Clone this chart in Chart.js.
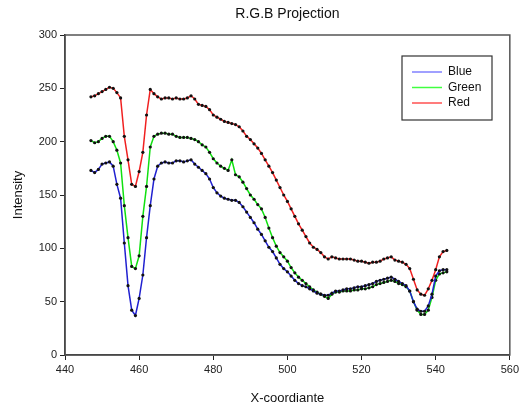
<!DOCTYPE html>
<html>
<head>
<meta charset="utf-8">
<script src="https://cdn.jsdelivr.net/npm/chart.js@4.4.1/dist/chart.umd.min.js"></script>
<style>
  body { margin: 0; background: #fff; }
  #wrap { width: 522px; height: 410px; }
</style>
</head>
<body>
<div id="wrap"><canvas id="graph" width="522" height="410"></canvas></div>
<script>
// Data, one value per x coordinate (447..543)
const xStart = 447;
const xEnd = 543;
const xCoords = [];
for (let x = xStart; x <= xEnd; x++) xCoords.push(x);

const redValues = [
    242, 243, 245, 247, 249, 251, 250, 246, 241, 205,
    183, 160, 158, 172, 190, 225, 249, 245, 242, 240,
    241, 241, 240, 241, 240, 240, 241, 243, 240, 235,
    234, 233, 230, 225, 223, 221, 219, 218, 217, 216,
    214, 210, 205, 202, 198, 194, 189, 183, 177, 171,
    164, 157, 150, 144, 137, 130, 123, 117, 111, 105,
    101, 99, 96, 92, 90, 92, 91, 90, 90, 90,
    90, 89, 88, 88, 87, 86, 87, 87, 88, 90,
    91, 92, 89, 88, 87, 85, 81, 71, 61, 57,
    56, 62, 70, 80, 92, 97, 98
];
const greenValues = [
    201, 199, 200, 203, 205, 205, 200, 192, 180, 140,
    110, 83, 81, 93, 130, 158, 195, 205, 207, 208,
    208, 207, 207, 205, 204, 204, 204, 203, 202, 200,
    197, 195, 190, 184, 180, 177, 175, 173, 183, 169,
    167, 162, 156, 150, 146, 141, 137, 129, 119, 110,
    102, 96, 92, 88, 82, 77, 73, 70, 67, 64,
    61, 59, 57, 55, 53, 57, 59, 59, 60, 60,
    60, 61, 61, 62, 62, 63, 64, 66, 67, 68,
    69, 70, 69, 67, 66, 64, 60, 50, 42, 38,
    38, 42, 54, 70, 76, 77, 78
];
const blueValues = [
    173, 171, 174, 179, 180, 181, 177, 160, 147, 105,
    65, 42, 37, 53, 75, 110, 140, 165, 177, 180,
    181, 180, 180, 182, 182, 181, 182, 183, 179, 176,
    173, 170, 165, 157, 152, 149, 147, 146, 145, 145,
    143, 139, 134, 129, 124, 118, 113, 107, 101, 97,
    91, 85, 81, 78, 74, 70, 67, 65, 64, 62,
    60, 58, 57, 56, 56, 58, 60, 60, 61, 62,
    62, 63, 64, 64, 65, 66, 67, 69, 70, 71,
    72, 73, 71, 69, 67, 65, 60, 50, 43, 41,
    41, 46, 57, 74, 79, 80, 80
];

const xTicks = [440, 460, 480, 500, 520, 540, 560];
const yTicks = [0, 50, 100, 150, 200, 250, 300];

const toPoints = (vals) => vals.map((v, i) => ({ x: xCoords[i], y: v }));

const FONT = 'Arial, "Liberation Sans", sans-serif';

// Title centred over the plot, frame round the plot, legend box top right
const framePlugin = {
    id: 'frame',
    afterDraw(chart) {
        const { ctx, chartArea: a } = chart;
        ctx.save();
        ctx.strokeStyle = '#555';
        ctx.lineWidth = 1.5;
        ctx.strokeRect(a.left, a.top, a.right - a.left, a.bottom - a.top);

        ctx.fillStyle = '#111';
        ctx.font = '14px ' + FONT;
        ctx.textAlign = 'center';
        ctx.textBaseline = 'middle';
        ctx.fillText('R.G.B Projection', (a.left + a.right) / 2, 14);

        // legend
        const lx = 402, ly = 56, lw = 90, lh = 64;
        ctx.fillStyle = '#fff';
        ctx.fillRect(lx, ly, lw, lh);
        ctx.strokeStyle = '#333';
        ctx.lineWidth = 1.2;
        ctx.strokeRect(lx, ly, lw, lh);
        ctx.font = '12px ' + FONT;
        ctx.textAlign = 'left';
        const items = [
            { label: 'Blue', color: '#8080ff' },
            { label: 'Green', color: '#40ff40' },
            { label: 'Red', color: '#ff5050' },
        ];
        items.forEach((it, i) => {
            const y = ly + 16 + i * 15.5;
            ctx.strokeStyle = it.color;
            ctx.lineWidth = 1.5;
            ctx.beginPath();
            ctx.moveTo(lx + 10, y);
            ctx.lineTo(lx + 40, y);
            ctx.stroke();
            ctx.fillStyle = '#111';
            ctx.fillText(it.label, lx + 46, y);
        });
        ctx.restore();
    }
};

const ctx = document.getElementById('graph').getContext('2d');

new Chart(ctx, {
    type: 'line',
    data: {
        datasets: [
            {
                label: 'Red',
                data: toPoints(redValues),
                borderColor: '#f02020',
                borderWidth: 1.5,
                pointRadius: 1.6,
                pointBackgroundColor: '#111',
                pointBorderWidth: 0,
                order: 3,
            },
            {
                label: 'Green',
                data: toPoints(greenValues),
                borderColor: '#10e010',
                borderWidth: 1.5,
                pointRadius: 1.6,
                pointBackgroundColor: '#111',
                pointBorderWidth: 0,
                order: 2,
            },
            {
                label: 'Blue',
                data: toPoints(blueValues),
                borderColor: '#2020d0',
                borderWidth: 1.5,
                pointRadius: 1.6,
                pointBackgroundColor: '#111',
                pointBorderWidth: 0,
                order: 1,
            },
        ],
    },
    options: {
        responsive: false,
        animation: false,
        layout: { padding: { top: 35, right: 10, bottom: 0, left: 0 } },
        plugins: {
            legend: { display: false },
            tooltip: { enabled: false },
            title: { display: false },
        },
        scales: {
            x: {
                type: 'linear',
                min: 440,
                max: 560,
                afterBuildTicks: (s) => { s.ticks = xTicks.map((v) => ({ value: v })); },
                afterFit: (s) => { s.height = 55; },
                grid: { drawOnChartArea: false, drawTicks: true, tickLength: 5, color: '#222' },
                border: { color: '#222', width: 1.5 },
                ticks: { color: '#222', font: { family: FONT, size: 11 }, padding: 3, maxRotation: 0 },
                title: {
                    display: true,
                    text: 'X-coordiante',
                    color: '#111',
                    font: { family: FONT, size: 13 },
                    padding: { top: 8 },
                },
            },
            y: {
                min: 0,
                max: 300,
                afterBuildTicks: (s) => { s.ticks = yTicks.map((v) => ({ value: v })); },
                afterFit: (s) => { s.width = 65; },
                grid: { drawOnChartArea: false, drawTicks: true, tickLength: 5, color: '#222' },
                border: { color: '#222', width: 1.5 },
                ticks: { color: '#222', font: { family: FONT, size: 11 }, padding: 3 },
                title: {
                    display: true,
                    text: 'Intensity',
                    color: '#111',
                    font: { family: FONT, size: 13 },
                    padding: { top: 11, bottom: 4 },
                },
            },
        },
    },
    plugins: [framePlugin],
});
</script>
</body>
</html>
